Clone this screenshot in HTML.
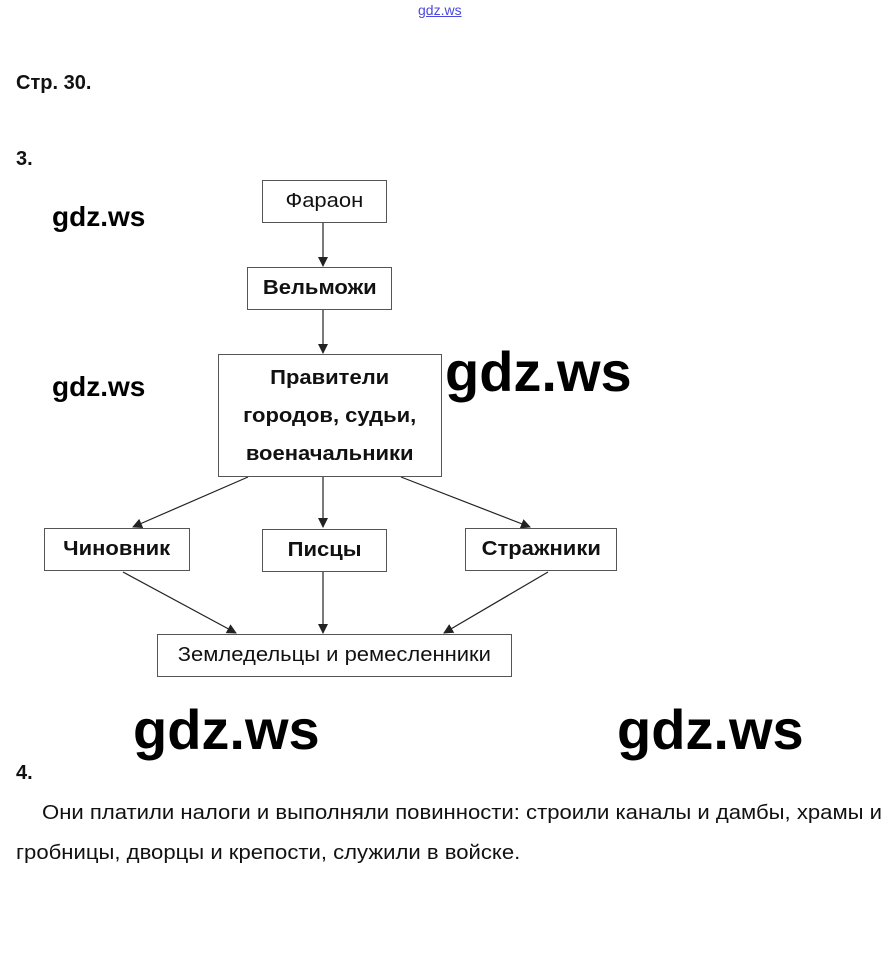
<!DOCTYPE html>
<html><head><meta charset="utf-8"><style>
body{margin:0;width:889px;height:971px;background:#fff;position:relative;font-family:"Liberation Sans",sans-serif;color:#111;overflow:hidden}
.t{position:absolute;white-space:nowrap}
.b{position:absolute;border:1px solid #555;box-sizing:border-box;display:flex;align-items:center;justify-content:center;text-align:center;font-size:20px;background:#fff}
.b span{display:inline-block;transform:scaleX(1.1)}
.w{position:absolute;white-space:nowrap;font-family:"Liberation Sans",sans-serif;font-weight:bold;color:#000}
.p{position:absolute;white-space:nowrap;font-size:20px;transform:scaleX(1.105);transform-origin:0 0}
</style></head><body>
<div class="t" style="left:418px;top:2px;font-size:14px;color:#4a4adf;text-decoration:underline">gdz.ws</div>
<div class="t" style="left:16px;top:72px;font-size:20px;font-weight:bold">Стр. 30.</div>
<div class="t" style="left:16px;top:148px;font-size:20px;font-weight:bold">3.</div>
<svg style="position:absolute;left:0;top:0" width="889" height="971">
<defs><marker id="a" markerWidth="10" markerHeight="10" refX="9" refY="5" orient="auto" markerUnits="userSpaceOnUse"><path d="M0,0 L10,5 L0,10z" fill="#222"/></marker></defs>
<g stroke="#222" stroke-width="1.2" marker-end="url(#a)">
<line x1="323" y1="223" x2="323" y2="266"/>
<line x1="323" y1="310" x2="323" y2="353"/>
<line x1="248" y1="477" x2="133" y2="527"/>
<line x1="323" y1="477" x2="323" y2="527"/>
<line x1="401" y1="477" x2="530" y2="527"/>
<line x1="123" y1="572" x2="236" y2="633"/>
<line x1="323" y1="572" x2="323" y2="633"/>
<line x1="548" y1="572" x2="444" y2="633"/>
</g></svg>
<div class="b" style="left:262px;top:180px;width:125px;height:43px"><span>Фараон</span></div>
<div class="b" style="left:247px;top:267px;width:145px;height:43px;font-weight:bold"><span>Вельможи</span></div>
<div class="b" style="left:218px;top:354px;width:224px;height:123px;font-weight:bold;line-height:38px"><span>Правители<br>городов, судьи,<br>военачальники</span></div>
<div class="b" style="left:44px;top:528px;width:146px;height:43px;font-weight:bold"><span>Чиновник</span></div>
<div class="b" style="left:262px;top:529px;width:125px;height:43px;font-weight:bold"><span>Писцы</span></div>
<div class="b" style="left:465px;top:528px;width:152px;height:43px;font-weight:bold"><span>Стражники</span></div>
<div class="b" style="left:157px;top:634px;width:355px;height:43px"><span>Земледельцы и ремесленники</span></div>
<div class="w" style="left:52px;top:201px;font-size:28px">gdz.ws</div>
<div class="w" style="left:52px;top:371px;font-size:28px">gdz.ws</div>
<div class="w" style="left:445px;top:339px;font-size:56px">gdz.ws</div>
<div class="w" style="left:133px;top:697px;font-size:56px">gdz.ws</div>
<div class="w" style="left:617px;top:697px;font-size:56px">gdz.ws</div>
<div class="t" style="left:16px;top:762px;font-size:20px;font-weight:bold">4.</div>
<div class="p" style="left:42px;top:802px">Они платили налоги и выполняли повинности: строили каналы и дамбы, храмы и</div>
<div class="p" style="left:16px;top:842px">гробницы, дворцы и крепости, служили в войске.</div>
</body></html>
